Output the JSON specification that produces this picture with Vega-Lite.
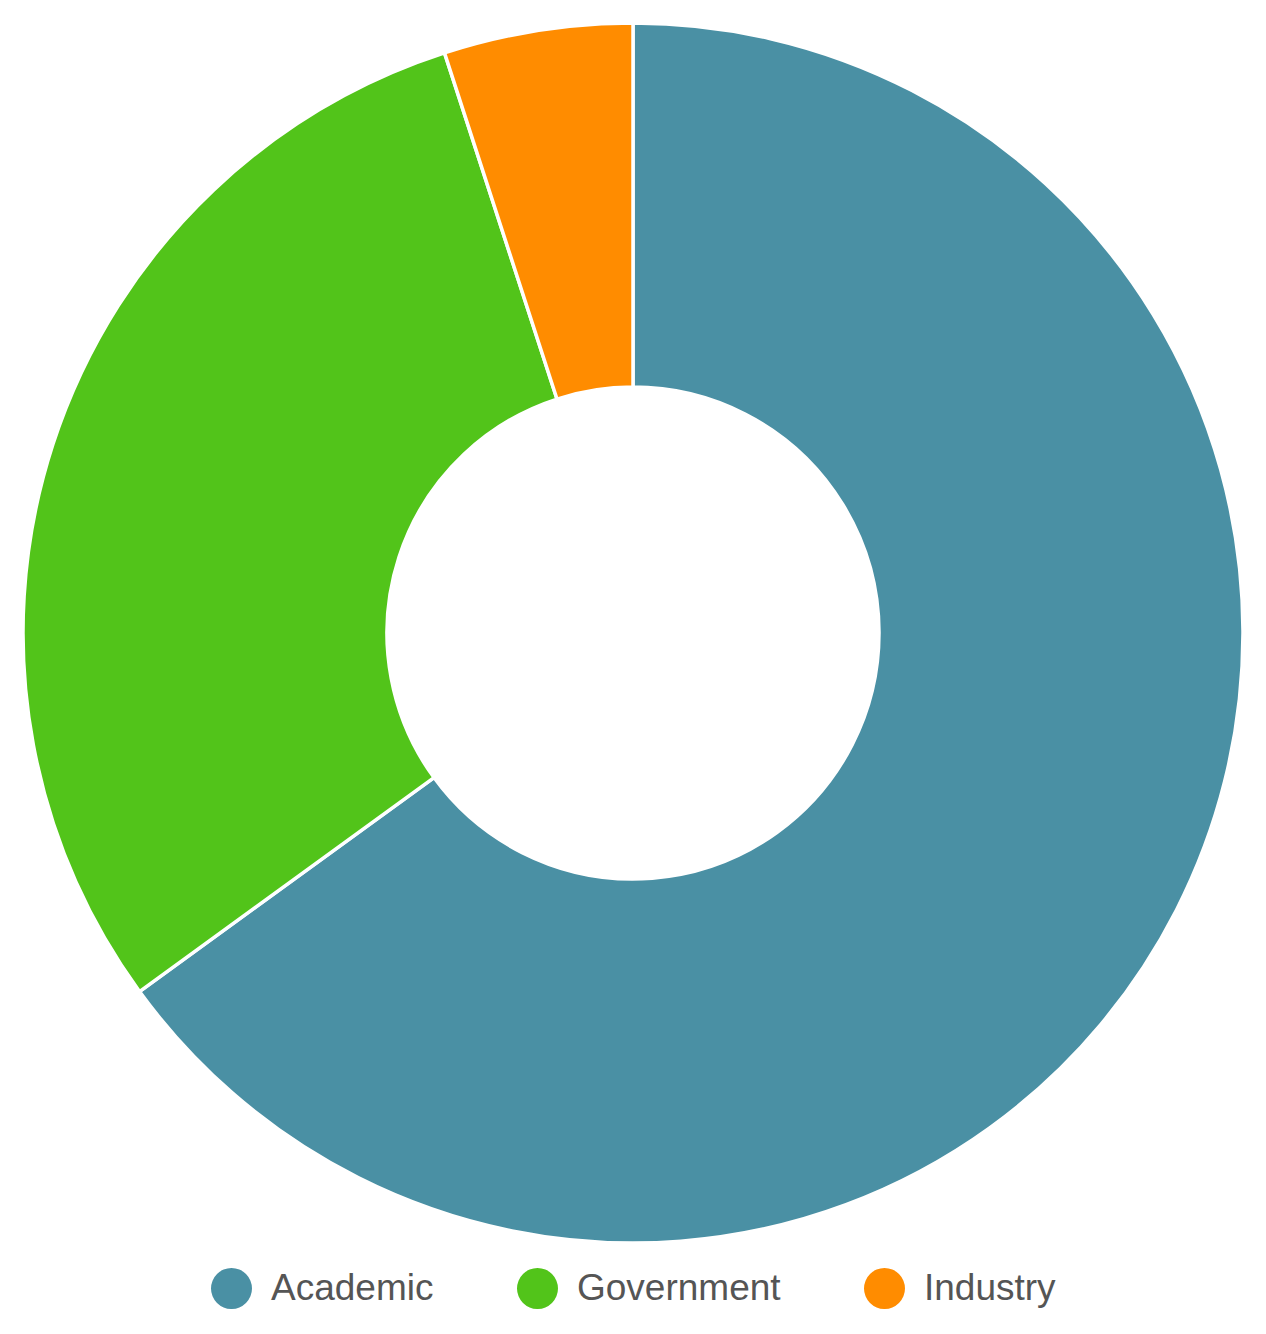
{
  "$schema": "https://vega.github.io/schema/vega-lite/v6.json",
  "width": 1266,
  "height": 1266,
  "padding": 0,
  "background": "white",
  "data": {
    "values": [
      {"sector": "Academic", "share": 65},
      {"sector": "Government", "share": 30},
      {"sector": "Industry", "share": 5}
    ]
  },
  "mark": {"type": "arc", "outerRadius": 610, "innerRadius": 246, "stroke": "white", "strokeWidth": 3.5},
  "encoding": {
    "theta": {"field": "share", "type": "quantitative", "stack": true},
    "color": {
      "field": "sector",
      "type": "nominal",
      "scale": {"domain": ["Academic", "Government", "Industry"], "range": ["#4A90A4", "#52C41A", "#FF8C00"]},
      "legend": {
        "orient": "bottom",
        "direction": "horizontal",
        "title": null,
        "symbolType": "circle",
        "symbolSize": 1680,
        "symbolStrokeWidth": 0,
        "labelFont": "Liberation Sans",
        "labelFontSize": 37,
        "labelColor": "#555555",
        "labelOffset": 19,
        "labelLimit": 500,
        "columnPadding": 83,
        "offset": 2,
        "padding": 0
      }
    },
    "order": {"field": "sector", "sort": "ascending"}
  },
  "config": {
    "view": {"stroke": null},
    "legend": {"layout": {"bottom": {"anchor": "middle"}}}
  }
}
